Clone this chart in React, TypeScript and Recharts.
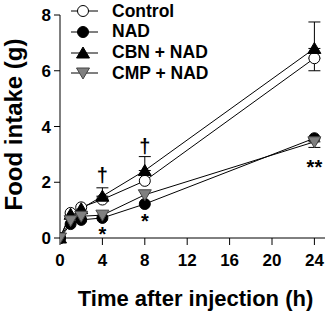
import {
  LineChart,
  Line,
  XAxis,
  YAxis,
  ErrorBar,
  ReferenceDot,
} from 'recharts';

const times = [0, 1, 2, 4, 8, 24];
const control = [0, 0.9, 1.1, 1.38, 2.05, 6.45];
const nad = [0, 0.5, 0.65, 0.72, 1.22, 3.58];
const cbnNad = [0, 0.85, 1.05, 1.5, 2.42, 6.8];
const cmpNad = [0, 0.62, 0.78, 0.82, 1.55, 3.45];

const controlErr = [null, null, null, null, null, [0.45, 0]];
const nadErr = [null, null, null, null, null, null];
const cbnErr = [null, null, null, [0, 0.3], [0, 0.5], [0, 0.95]];
const cmpErr = [null, null, null, null, null, [0.2, 0]];

const xTicks = [0, 4, 8, 12, 16, 20, 24];
const yTicks = [0, 2, 4, 6, 8];

const daggers = [
  { t: 4, v: 2.25 },
  { t: 8, v: 3.3 },
  { t: 24, v: 8.15 },
];
const stars = [
  { t: 4, v: 0.15, text: '*' },
  { t: 8, v: 0.6, text: '*' },
  { t: 24, v: 2.55, text: '**' },
];

const data = times.map((t, i) => ({
  t,
  control: control[i],
  nad: nad[i],
  cbn: cbnNad[i],
  cmp: cmpNad[i],
  controlErr: controlErr[i],
  nadErr: nadErr[i],
  cbnErr: cbnErr[i],
  cmpErr: cmpErr[i],
}));

const FONT = '"Liberation Sans", Arial, sans-serif';

type Shape = 'openCircle' | 'circle' | 'up' | 'down';

function Marker({ cx, cy, shape }: { cx: number; cy: number; shape: Shape }) {
  if (cx == null || cy == null) return null;
  if (shape === 'openCircle')
    return <circle cx={cx} cy={cy} r={5.5} fill="#fff" stroke="#000" strokeWidth={1} />;
  if (shape === 'circle')
    return <circle cx={cx} cy={cy} r={5.5} fill="#000" stroke="#000" strokeWidth={1} />;
  if (shape === 'up')
    return (
      <polygon
        points={`${cx},${cy - 6} ${cx - 6.5},${cy + 5} ${cx + 6.5},${cy + 5}`}
        fill="#000"
        stroke="#000"
      />
    );
  return (
    <polygon
      points={`${cx},${cy + 6} ${cx - 6.5},${cy - 5} ${cx + 6.5},${cy - 5}`}
      fill="#808080"
      stroke="#444"
    />
  );
}

const series: { key: string; err: string; name: string; shape: Shape }[] = [
  { key: 'control', err: 'controlErr', name: 'Control', shape: 'openCircle' },
  { key: 'nad', err: 'nadErr', name: 'NAD', shape: 'circle' },
  { key: 'cbn', err: 'cbnErr', name: 'CBN + NAD', shape: 'up' },
  { key: 'cmp', err: 'cmpErr', name: 'CMP + NAD', shape: 'down' },
];

function LegendBox() {
  return (
    <div style={{ fontFamily: FONT, fontWeight: 'bold', fontSize: 17.5, lineHeight: 1 }}>
      {series.map((s) => (
        <div key={s.key} style={{ display: 'flex', alignItems: 'center', height: 20.7 }}>
          <svg width={28} height={16}>
            <line x1={0} y1={8} x2={27} y2={8} stroke="#000" strokeWidth={1} />
            <Marker cx={12} cy={8} shape={s.shape} />
          </svg>
          <span style={{ marginLeft: 13, color: '#000' }}>{s.name}</span>
        </div>
      ))}
    </div>
  );
}

const tickStyle = { fill: '#000', fontSize: 17, fontWeight: 'bold', fontFamily: FONT };
const labelStyle = { fill: '#000', fontSize: 22, fontWeight: 'bold', fontFamily: FONT };

export default function App() {
  return (
    <div style={{ position: 'absolute', left: 0, top: 0, background: '#fff', width: 328, height: 314 }}>
      <LineChart
        width={328}
        height={314}
        data={data}
        margin={{ top: 15, right: 3, bottom: 36, left: 0 }}
      >
        <XAxis
          dataKey="t"
          type="number"
          domain={[0, 25]}
          ticks={xTicks}
          allowDataOverflow
          stroke="#000"
          tickSize={7}
          tickMargin={9}
          height={40}
          tick={tickStyle}
          label={{
            value: 'Time after injection (h)',
            position: 'insideBottom',
            offset: -28,
            dx: 3,
            style: labelStyle,
          }}
        />
        <YAxis
          domain={[0, 8]}
          ticks={yTicks}
          width={60}
          stroke="#000"
          tickSize={6}
          tickMargin={3}
          tick={tickStyle}
          label={{
            value: 'Food intake (g)',
            angle: -90,
            position: 'insideLeft',
            offset: 13,
            dy: -2,
            style: { ...labelStyle, fontSize: 24, textAnchor: 'middle' },
          }}
        />
        {series.map((s) => (
          <Line
            key={s.key}
            dataKey={s.key}
            name={s.name}
            stroke="#000"
            strokeWidth={1}
            isAnimationActive={false}
            dot={(p: any) => <Marker key={`${s.key}-${p.index}`} cx={p.cx} cy={p.cy} shape={s.shape} />}
            activeDot={false}
          >
            <ErrorBar dataKey={s.err} width={6} stroke="#000" strokeWidth={1} />
          </Line>
        ))}
        {daggers.map((d) => (
          <ReferenceDot
            key={`d${d.t}`}
            x={d.t}
            y={d.v}
            r={0}
            label={{
              value: '†',
              position: 'center',
              style: { fill: '#000', fontSize: 20, fontWeight: 'bold', fontFamily: FONT },
            }}
          />
        ))}
        {stars.map((d) => (
          <ReferenceDot
            key={`s${d.t}`}
            x={d.t}
            y={d.v}
            r={0}
            label={{
              value: d.text,
              position: 'center',
              style: { fill: '#000', fontSize: 20, fontWeight: 'bold', fontFamily: FONT },
            }}
          />
        ))}
      </LineChart>
      <div style={{ position: 'absolute', left: 71, top: 1 }}>
        <LegendBox />
      </div>
    </div>
  );
}
